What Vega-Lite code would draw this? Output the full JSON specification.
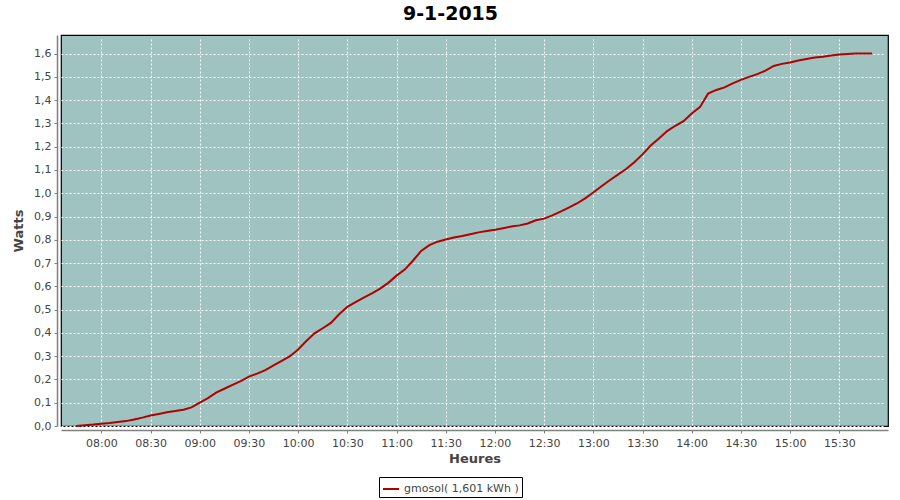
{
  "$schema": "https://vega.github.io/schema/vega-lite/v6.json",
  "autosize": {"type": "none"},
  "width": 827,
  "height": 391,
  "padding": {"left": 61, "top": 35, "right": 12, "bottom": 74},
  "background": "white",
  "title": {
    "text": "9-1-2015",
    "font": "DejaVu Sans",
    "fontSize": 19,
    "fontWeight": "bold",
    "color": "#000000",
    "anchor": "middle",
    "dx": -24,
    "offset": 11
  },
  "config": {
    "view": {"fill": "#9fc3c1", "stroke": "#000000", "strokeWidth": 1.2},
    "axis": {
      "labelFont": "DejaVu Sans",
      "labelFontSize": 11,
      "labelColor": "#444444",
      "titleFont": "DejaVu Sans",
      "titleFontSize": 13,
      "titleFontWeight": "bold",
      "titleColor": "#444444",
      "domainColor": "#808080",
      "domainWidth": 1.5,
      "tickColor": "#808080",
      "tickSize": 3,
      "offset": 4,
      "gridColor": "#ffffff",
      "gridDash": [2, 2],
      "gridWidth": 1,
      "gridOpacity": 1
    }
  },
  "data": {
    "values": [
      {"t": "2015-01-09T07:44:36", "v": 0.000, "s": "gmosol( 1,601 kWh )"},
      {"t": "2015-01-09T07:50:00", "v": 0.003, "s": "gmosol( 1,601 kWh )"},
      {"t": "2015-01-09T07:55:00", "v": 0.006, "s": "gmosol( 1,601 kWh )"},
      {"t": "2015-01-09T08:00:00", "v": 0.010, "s": "gmosol( 1,601 kWh )"},
      {"t": "2015-01-09T08:05:00", "v": 0.013, "s": "gmosol( 1,601 kWh )"},
      {"t": "2015-01-09T08:10:00", "v": 0.017, "s": "gmosol( 1,601 kWh )"},
      {"t": "2015-01-09T08:15:00", "v": 0.021, "s": "gmosol( 1,601 kWh )"},
      {"t": "2015-01-09T08:20:00", "v": 0.028, "s": "gmosol( 1,601 kWh )"},
      {"t": "2015-01-09T08:25:00", "v": 0.036, "s": "gmosol( 1,601 kWh )"},
      {"t": "2015-01-09T08:30:00", "v": 0.045, "s": "gmosol( 1,601 kWh )"},
      {"t": "2015-01-09T08:35:00", "v": 0.052, "s": "gmosol( 1,601 kWh )"},
      {"t": "2015-01-09T08:40:00", "v": 0.059, "s": "gmosol( 1,601 kWh )"},
      {"t": "2015-01-09T08:45:00", "v": 0.064, "s": "gmosol( 1,601 kWh )"},
      {"t": "2015-01-09T08:50:00", "v": 0.070, "s": "gmosol( 1,601 kWh )"},
      {"t": "2015-01-09T08:55:00", "v": 0.080, "s": "gmosol( 1,601 kWh )"},
      {"t": "2015-01-09T09:00:00", "v": 0.100, "s": "gmosol( 1,601 kWh )"},
      {"t": "2015-01-09T09:05:00", "v": 0.120, "s": "gmosol( 1,601 kWh )"},
      {"t": "2015-01-09T09:10:00", "v": 0.143, "s": "gmosol( 1,601 kWh )"},
      {"t": "2015-01-09T09:15:00", "v": 0.160, "s": "gmosol( 1,601 kWh )"},
      {"t": "2015-01-09T09:20:00", "v": 0.177, "s": "gmosol( 1,601 kWh )"},
      {"t": "2015-01-09T09:25:00", "v": 0.193, "s": "gmosol( 1,601 kWh )"},
      {"t": "2015-01-09T09:30:00", "v": 0.212, "s": "gmosol( 1,601 kWh )"},
      {"t": "2015-01-09T09:35:00", "v": 0.225, "s": "gmosol( 1,601 kWh )"},
      {"t": "2015-01-09T09:40:00", "v": 0.240, "s": "gmosol( 1,601 kWh )"},
      {"t": "2015-01-09T09:45:00", "v": 0.260, "s": "gmosol( 1,601 kWh )"},
      {"t": "2015-01-09T09:50:00", "v": 0.280, "s": "gmosol( 1,601 kWh )"},
      {"t": "2015-01-09T09:55:00", "v": 0.300, "s": "gmosol( 1,601 kWh )"},
      {"t": "2015-01-09T10:00:00", "v": 0.329, "s": "gmosol( 1,601 kWh )"},
      {"t": "2015-01-09T10:05:00", "v": 0.365, "s": "gmosol( 1,601 kWh )"},
      {"t": "2015-01-09T10:10:00", "v": 0.398, "s": "gmosol( 1,601 kWh )"},
      {"t": "2015-01-09T10:15:00", "v": 0.420, "s": "gmosol( 1,601 kWh )"},
      {"t": "2015-01-09T10:20:00", "v": 0.443, "s": "gmosol( 1,601 kWh )"},
      {"t": "2015-01-09T10:25:00", "v": 0.480, "s": "gmosol( 1,601 kWh )"},
      {"t": "2015-01-09T10:30:00", "v": 0.512, "s": "gmosol( 1,601 kWh )"},
      {"t": "2015-01-09T10:35:00", "v": 0.532, "s": "gmosol( 1,601 kWh )"},
      {"t": "2015-01-09T10:40:00", "v": 0.552, "s": "gmosol( 1,601 kWh )"},
      {"t": "2015-01-09T10:45:00", "v": 0.570, "s": "gmosol( 1,601 kWh )"},
      {"t": "2015-01-09T10:50:00", "v": 0.590, "s": "gmosol( 1,601 kWh )"},
      {"t": "2015-01-09T10:55:00", "v": 0.615, "s": "gmosol( 1,601 kWh )"},
      {"t": "2015-01-09T11:00:00", "v": 0.646, "s": "gmosol( 1,601 kWh )"},
      {"t": "2015-01-09T11:05:00", "v": 0.672, "s": "gmosol( 1,601 kWh )"},
      {"t": "2015-01-09T11:10:00", "v": 0.710, "s": "gmosol( 1,601 kWh )"},
      {"t": "2015-01-09T11:15:00", "v": 0.752, "s": "gmosol( 1,601 kWh )"},
      {"t": "2015-01-09T11:20:00", "v": 0.777, "s": "gmosol( 1,601 kWh )"},
      {"t": "2015-01-09T11:25:00", "v": 0.792, "s": "gmosol( 1,601 kWh )"},
      {"t": "2015-01-09T11:30:00", "v": 0.801, "s": "gmosol( 1,601 kWh )"},
      {"t": "2015-01-09T11:35:00", "v": 0.810, "s": "gmosol( 1,601 kWh )"},
      {"t": "2015-01-09T11:40:00", "v": 0.816, "s": "gmosol( 1,601 kWh )"},
      {"t": "2015-01-09T11:45:00", "v": 0.824, "s": "gmosol( 1,601 kWh )"},
      {"t": "2015-01-09T11:50:00", "v": 0.832, "s": "gmosol( 1,601 kWh )"},
      {"t": "2015-01-09T11:55:00", "v": 0.838, "s": "gmosol( 1,601 kWh )"},
      {"t": "2015-01-09T12:00:00", "v": 0.843, "s": "gmosol( 1,601 kWh )"},
      {"t": "2015-01-09T12:05:00", "v": 0.850, "s": "gmosol( 1,601 kWh )"},
      {"t": "2015-01-09T12:10:00", "v": 0.857, "s": "gmosol( 1,601 kWh )"},
      {"t": "2015-01-09T12:15:00", "v": 0.862, "s": "gmosol( 1,601 kWh )"},
      {"t": "2015-01-09T12:20:00", "v": 0.870, "s": "gmosol( 1,601 kWh )"},
      {"t": "2015-01-09T12:25:00", "v": 0.884, "s": "gmosol( 1,601 kWh )"},
      {"t": "2015-01-09T12:30:00", "v": 0.891, "s": "gmosol( 1,601 kWh )"},
      {"t": "2015-01-09T12:35:00", "v": 0.905, "s": "gmosol( 1,601 kWh )"},
      {"t": "2015-01-09T12:40:00", "v": 0.921, "s": "gmosol( 1,601 kWh )"},
      {"t": "2015-01-09T12:45:00", "v": 0.938, "s": "gmosol( 1,601 kWh )"},
      {"t": "2015-01-09T12:50:00", "v": 0.956, "s": "gmosol( 1,601 kWh )"},
      {"t": "2015-01-09T12:55:00", "v": 0.978, "s": "gmosol( 1,601 kWh )"},
      {"t": "2015-01-09T13:00:00", "v": 1.003, "s": "gmosol( 1,601 kWh )"},
      {"t": "2015-01-09T13:05:00", "v": 1.030, "s": "gmosol( 1,601 kWh )"},
      {"t": "2015-01-09T13:10:00", "v": 1.056, "s": "gmosol( 1,601 kWh )"},
      {"t": "2015-01-09T13:15:00", "v": 1.080, "s": "gmosol( 1,601 kWh )"},
      {"t": "2015-01-09T13:20:00", "v": 1.104, "s": "gmosol( 1,601 kWh )"},
      {"t": "2015-01-09T13:25:00", "v": 1.133, "s": "gmosol( 1,601 kWh )"},
      {"t": "2015-01-09T13:30:00", "v": 1.167, "s": "gmosol( 1,601 kWh )"},
      {"t": "2015-01-09T13:35:00", "v": 1.205, "s": "gmosol( 1,601 kWh )"},
      {"t": "2015-01-09T13:40:00", "v": 1.235, "s": "gmosol( 1,601 kWh )"},
      {"t": "2015-01-09T13:45:00", "v": 1.267, "s": "gmosol( 1,601 kWh )"},
      {"t": "2015-01-09T13:50:00", "v": 1.290, "s": "gmosol( 1,601 kWh )"},
      {"t": "2015-01-09T13:55:00", "v": 1.310, "s": "gmosol( 1,601 kWh )"},
      {"t": "2015-01-09T14:00:00", "v": 1.343, "s": "gmosol( 1,601 kWh )"},
      {"t": "2015-01-09T14:05:00", "v": 1.370, "s": "gmosol( 1,601 kWh )"},
      {"t": "2015-01-09T14:10:00", "v": 1.428, "s": "gmosol( 1,601 kWh )"},
      {"t": "2015-01-09T14:15:00", "v": 1.444, "s": "gmosol( 1,601 kWh )"},
      {"t": "2015-01-09T14:20:00", "v": 1.455, "s": "gmosol( 1,601 kWh )"},
      {"t": "2015-01-09T14:25:00", "v": 1.472, "s": "gmosol( 1,601 kWh )"},
      {"t": "2015-01-09T14:30:00", "v": 1.487, "s": "gmosol( 1,601 kWh )"},
      {"t": "2015-01-09T14:35:00", "v": 1.500, "s": "gmosol( 1,601 kWh )"},
      {"t": "2015-01-09T14:40:00", "v": 1.512, "s": "gmosol( 1,601 kWh )"},
      {"t": "2015-01-09T14:45:00", "v": 1.527, "s": "gmosol( 1,601 kWh )"},
      {"t": "2015-01-09T14:50:00", "v": 1.547, "s": "gmosol( 1,601 kWh )"},
      {"t": "2015-01-09T14:55:00", "v": 1.556, "s": "gmosol( 1,601 kWh )"},
      {"t": "2015-01-09T15:00:00", "v": 1.562, "s": "gmosol( 1,601 kWh )"},
      {"t": "2015-01-09T15:05:00", "v": 1.570, "s": "gmosol( 1,601 kWh )"},
      {"t": "2015-01-09T15:10:00", "v": 1.577, "s": "gmosol( 1,601 kWh )"},
      {"t": "2015-01-09T15:15:00", "v": 1.583, "s": "gmosol( 1,601 kWh )"},
      {"t": "2015-01-09T15:20:00", "v": 1.587, "s": "gmosol( 1,601 kWh )"},
      {"t": "2015-01-09T15:25:00", "v": 1.592, "s": "gmosol( 1,601 kWh )"},
      {"t": "2015-01-09T15:30:00", "v": 1.596, "s": "gmosol( 1,601 kWh )"},
      {"t": "2015-01-09T15:35:00", "v": 1.598, "s": "gmosol( 1,601 kWh )"},
      {"t": "2015-01-09T15:40:00", "v": 1.600, "s": "gmosol( 1,601 kWh )"},
      {"t": "2015-01-09T15:45:00", "v": 1.601, "s": "gmosol( 1,601 kWh )"},
      {"t": "2015-01-09T15:50:00", "v": 1.601, "s": "gmosol( 1,601 kWh )"}
    ]
  },
  "mark": {"type": "line", "strokeWidth": 2},
  "encoding": {
    "x": {
      "field": "t",
      "type": "temporal",
      "title": "Heures",
      "scale": {
        "domain": [
          {"year": 2015, "month": 1, "date": 9, "hours": 7, "minutes": 35, "seconds": 24},
          {"year": 2015, "month": 1, "date": 9, "hours": 15, "minutes": 59, "seconds": 42}
        ],
        "nice": false
      },
      "axis": {
        "values": [
          {"year": 2015, "month": 1, "date": 9, "hours": 8, "minutes": 0},
          {"year": 2015, "month": 1, "date": 9, "hours": 8, "minutes": 30},
          {"year": 2015, "month": 1, "date": 9, "hours": 9, "minutes": 0},
          {"year": 2015, "month": 1, "date": 9, "hours": 9, "minutes": 30},
          {"year": 2015, "month": 1, "date": 9, "hours": 10, "minutes": 0},
          {"year": 2015, "month": 1, "date": 9, "hours": 10, "minutes": 30},
          {"year": 2015, "month": 1, "date": 9, "hours": 11, "minutes": 0},
          {"year": 2015, "month": 1, "date": 9, "hours": 11, "minutes": 30},
          {"year": 2015, "month": 1, "date": 9, "hours": 12, "minutes": 0},
          {"year": 2015, "month": 1, "date": 9, "hours": 12, "minutes": 30},
          {"year": 2015, "month": 1, "date": 9, "hours": 13, "minutes": 0},
          {"year": 2015, "month": 1, "date": 9, "hours": 13, "minutes": 30},
          {"year": 2015, "month": 1, "date": 9, "hours": 14, "minutes": 0},
          {"year": 2015, "month": 1, "date": 9, "hours": 14, "minutes": 30},
          {"year": 2015, "month": 1, "date": 9, "hours": 15, "minutes": 0},
          {"year": 2015, "month": 1, "date": 9, "hours": 15, "minutes": 30}
        ],
        "format": "%H:%M",
        "labelPadding": 4,
        "titlePadding": 4
      }
    },
    "y": {
      "field": "v",
      "type": "quantitative",
      "title": "Watts",
      "scale": {"domain": [0, 1.68], "nice": false},
      "axis": {
        "values": [0, 0.1, 0.2, 0.3, 0.4, 0.5, 0.6, 0.7, 0.8, 0.9, 1.0, 1.1, 1.2, 1.3, 1.4, 1.5, 1.6],
        "labelExpr": "replace(format(datum.value, '.1f'), '.', ',')",
        "labelPadding": 3,
        "titlePadding": 8
      }
    },
    "color": {
      "field": "s",
      "type": "nominal",
      "scale": {"range": ["#b00000"]},
      "legend": {
        "title": null,
        "orient": "none",
        "legendX": 318,
        "legendY": 442,
        "strokeColor": "#000000",
        "fillColor": "#ffffff",
        "padding": 3,
        "symbolType": "stroke",
        "symbolSize": 256,
        "symbolStrokeWidth": 2,
        "labelFont": "DejaVu Sans",
        "labelFontSize": 11,
        "labelColor": "#444444",
        "labelOffset": 4
      }
    }
  }
}
